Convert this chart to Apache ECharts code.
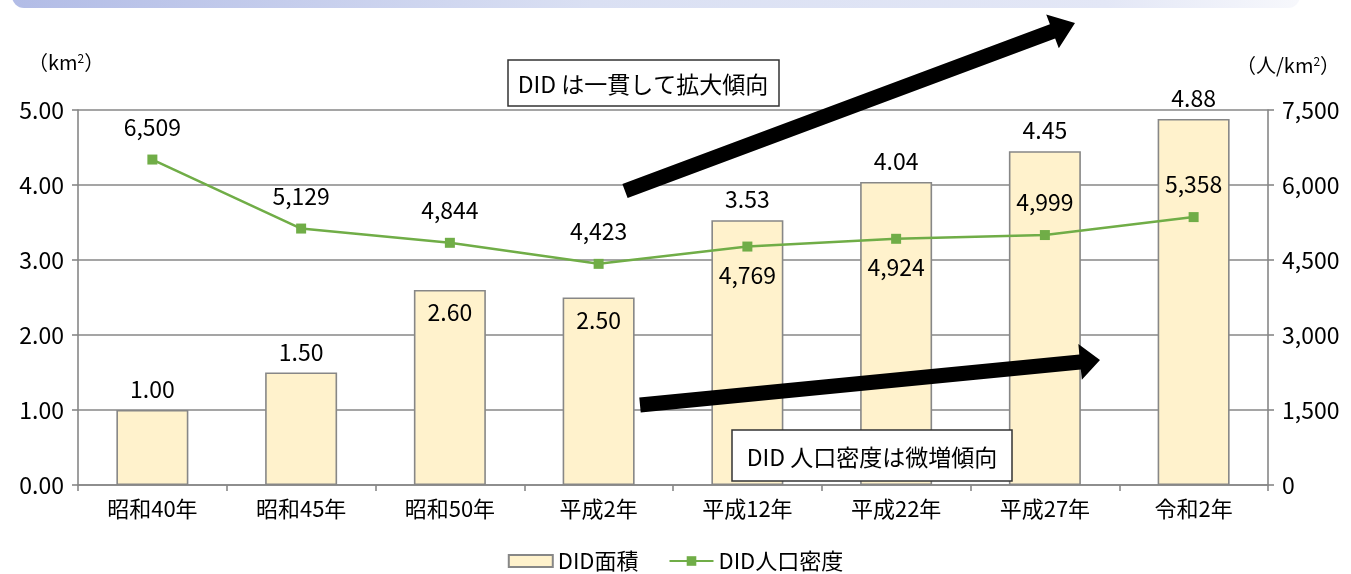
<!DOCTYPE html>
<html><head><meta charset="utf-8">
<script src="https://cdn.jsdelivr.net/npm/echarts@6/dist/echarts.min.js"></script>
<style>html,body{margin:0;padding:0;background:#fff}#c{width:1351px;height:574px}</style>
</head><body><div id="c"></div>
<script>
const categories = ['昭和40年','昭和45年','昭和50年','平成2年','平成12年','平成22年','平成27年','令和2年'];
const areaValues = [1.00, 1.50, 2.60, 2.50, 3.53, 4.04, 4.45, 4.88];
const densityValues = [6509, 5129, 4844, 4423, 4769, 4924, 4999, 5358];
const densityLabelPos = ['top','top','top','top','bottom','bottom','top','top'];
const areaLabelPos = ['top','top','insideTop','insideTop','top','top','top','top'];
const seriesNames = ['DID面積','DID人口密度'];
const note1 = 'DID は一貫して拡大傾向';
const note2 = 'DID 人口密度は微増傾向';

const FONT = '"Noto Sans CJK JP", sans-serif';
const GRAY = '#878787';
const NUM = 23;
const chart = echarts.init(document.getElementById('c'), null, {renderer:'canvas'});

const barData = areaValues.map((v,i)=>({value:v,label:{position:areaLabelPos[i],distance: areaLabelPos[i]==='top'?9:11}}));
const lineData = densityValues.map((v,i)=>({value:v,label:{position:densityLabelPos[i],distance: densityLabelPos[i]==='top'?16:12}}));

function arrow(x1,y1,x2,y2,w,hw,hl){
  const dx=x2-x1, dy=y2-y1, L=Math.hypot(dx,dy), ux=dx/L, uy=dy/L, nx=-uy, ny=ux;
  const bx=x2-ux*hl, by=y2-uy*hl;
  const pts=[[x1+nx*w/2,y1+ny*w/2],[bx+nx*w/2,by+ny*w/2],[bx+nx*hw/2,by+ny*hw/2],[x2,y2],[bx-nx*hw/2,by-ny*hw/2],[bx-nx*w/2,by-ny*w/2],[x1-nx*w/2,y1-ny*w/2]];
  return {type:'polygon',z:100,shape:{points:pts},style:{fill:'#000'}};
}

chart.setOption({
  animation:false,
  textStyle:{fontFamily:FONT},
  grid:{left:78,right:83,top:110,bottom:89},
  legend:{
    top:545,left:'center',itemGap:30,itemWidth:44,itemHeight:12,
    textStyle:{fontSize:22,color:'#000',fontFamily:FONT},
    data:[{name:seriesNames[0],icon:'rect'},{name:seriesNames[1]}]
  },
  xAxis:{
    type:'category',data:categories,
    axisLine:{lineStyle:{color:GRAY,width:1.6}},
    axisTick:{show:true,length:6,lineStyle:{color:GRAY,width:1.6}},
    axisLabel:{fontSize:22,color:'#000',margin:13,fontFamily:FONT}
  },
  yAxis:[
    {type:'value',min:0,max:5,interval:1,
     axisLine:{show:true,lineStyle:{color:GRAY,width:1.6}},
     axisTick:{show:true,length:6,lineStyle:{color:GRAY,width:1.6}},
     splitLine:{lineStyle:{color:GRAY,width:1.6}},
     axisLabel:{fontSize:NUM,color:'#000',margin:14,formatter:v=>v.toFixed(2),fontFamily:FONT}},
    {type:'value',min:0,max:7500,interval:1500,
     axisLine:{show:true,lineStyle:{color:GRAY,width:1.6}},
     axisTick:{show:true,length:6,lineStyle:{color:GRAY,width:1.6}},
     splitLine:{show:false},
     axisLabel:{fontSize:NUM,color:'#000',margin:14,formatter:v=>v.toLocaleString('en-US'),fontFamily:FONT}}
  ],
  series:[
    {name:seriesNames[0],type:'bar',data:barData,barWidth:72,z:2,
     itemStyle:{color:'#fff2cc',borderColor:GRAY,borderWidth:1.6},
     label:{show:true,fontSize:NUM,color:'#000',formatter:p=>p.value.toFixed(2),fontFamily:FONT}},
    {name:seriesNames[1],type:'line',yAxisIndex:1,data:lineData,z:5,
     symbol:'rect',symbolSize:10,
     lineStyle:{color:'#70ad47',width:2.5},itemStyle:{color:'#70ad47'},
     label:{show:true,fontSize:NUM,color:'#000',formatter:p=>p.value.toLocaleString('en-US'),fontFamily:FONT}}
  ],
  graphic:[
    {type:'rect',z:0,shape:{x:12,y:-20,width:1288,height:28,r:12},
     style:{fill:new echarts.graphic.LinearGradient(0,0,1,0,[{offset:0,color:'#b2bce6'},{offset:0.45,color:'#dae0f3'},{offset:0.85,color:'#e3e7f6'},{offset:1,color:'#f7f8fc'}])}},
    {type:'text',z:10,x:28,y:52,style:{text:'（km{s|2}）',rich:{s:{fontSize:12,verticalAlign:'top',padding:[0,0,9,0],fontFamily:FONT}},fontSize:20,fill:'#000',fontFamily:FONT}},
    {type:'text',z:10,x:1236,y:55,style:{text:'（人/km{s|2}）',rich:{s:{fontSize:12,verticalAlign:'top',padding:[0,0,9,0],fontFamily:FONT}},fontSize:20,fill:'#000',fontFamily:FONT}},
    {type:'rect',z:50,shape:{x:508,y:60,width:271,height:46},style:{fill:'#fff',stroke:'#333',lineWidth:1.5}},
    {type:'text',z:51,x:643,y:84,style:{text:note1,fontSize:23,fill:'#000',align:'center',verticalAlign:'middle',fontFamily:FONT}},
    {type:'rect',z:50,shape:{x:732,y:430,width:280,height:51},style:{fill:'#fff',stroke:'#333',lineWidth:1.5}},
    {type:'text',z:51,x:872,y:457,style:{text:note2,fontSize:23,fill:'#000',align:'center',verticalAlign:'middle',fontFamily:FONT}},
    arrow(625,191,1075,23,15,36,24),
    arrow(640,405,1100,360,15,36,20)
  ]
});
</script></body></html>
